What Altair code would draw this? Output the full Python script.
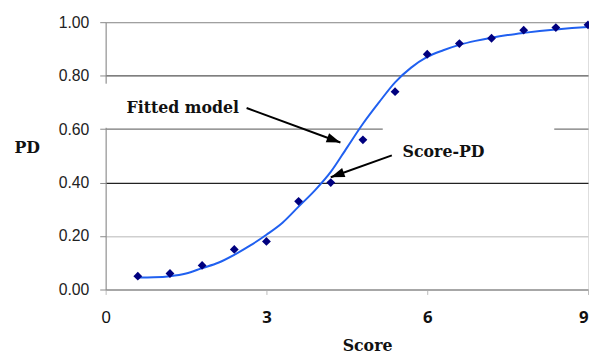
import math
import altair as alt
import pandas as pd

# Observed score-PD pairs (diamonds)
scores = [0.6, 1.2, 1.8, 2.4, 3.0, 3.6, 4.2, 4.8, 5.4, 6.0, 6.6, 7.2, 7.8, 8.4, 9.0]
pd_obs = [0.05, 0.06, 0.09, 0.15, 0.18, 0.33, 0.40, 0.56, 0.74, 0.88, 0.92, 0.94, 0.97, 0.98, 0.99]

# Fitted model curve
fit_x = [0.6, 0.9, 1.2, 1.5, 1.8, 2.1, 2.4, 2.7, 3.0, 3.3, 3.6, 3.9, 4.2, 4.5, 4.8,
         5.1, 5.4, 5.7, 6.0, 6.3, 6.6, 6.9, 7.2, 7.5, 7.8, 8.1, 8.4, 8.7, 9.0]
fit_y = [0.045, 0.046, 0.05, 0.06, 0.08, 0.10, 0.13, 0.165, 0.205, 0.25, 0.31, 0.37, 0.44, 0.53, 0.62,
         0.70, 0.775, 0.83, 0.87, 0.895, 0.915, 0.93, 0.942, 0.952, 0.96, 0.967, 0.973, 0.978, 0.982]

# Tick values
x_ticks = [0, 3, 6, 9]
y_ticks = [0.0, 0.2, 0.4, 0.6, 0.8, 1.0]

# Annotations
ann_text = ["Fitted model", "Score-PD"]
ann_x = [0.39, 5.54]
ann_y = [0.679, 0.513]
arrow_x0 = [2.63, 5.34]
arrow_y0 = [0.679, 0.502]
arrow_x1 = [4.38, 4.20]
arrow_y1 = [0.55, 0.42]

W, H = 489, 271
PX_X = W / 9.0
PX_Y = H / 1.0

angles = []
for x0, y0, x1, y1 in zip(arrow_x0, arrow_y0, arrow_x1, arrow_y1):
    dx = (x1 - x0) * PX_X
    dy = -(y1 - y0) * PX_Y
    angles.append((math.degrees(math.atan2(dy, dx)) + 90) % 360)

obs_df = pd.DataFrame({"score": scores, "pd": pd_obs})
fit_df = pd.DataFrame({"score": fit_x, "pd": fit_y})
ann_df = pd.DataFrame({"text": ann_text, "x": ann_x, "y": ann_y})
arr_df = pd.DataFrame({"x0": arrow_x0, "y0": arrow_y0, "x1": arrow_x1, "y1": arrow_y1, "angle": angles})
gap_df = pd.DataFrame({"x0": [5.17, 0.0], "x1": [8.37, 0.0], "y0": [0.6, 0.605], "y1": [0.6, 0.77]})

xscale = alt.Scale(domain=[0, 9], nice=False, zero=False)
yscale = alt.Scale(domain=[0, 1], nice=False)

SERIF = "DejaVu Serif"

x_axis = alt.Axis(
    values=x_ticks, format="d", title="Score", grid=False,
    labelFont={"condition": {"test": "datum.value == 0", "value": "Liberation Sans"}, "value": "Noto Sans"},
    labelFontWeight={"condition": {"test": "datum.value == 0", "value": "normal"}, "value": "bold"},
    labelAlign={"condition": {"test": "datum.value == 9", "value": "right"}, "value": "center"},
    labelFlush=False, labelFontSize=17, labelColor="#111", labelBaseline="top",
    tickSize=5, tickColor="#bbb", labelPadding=15, domainColor="#999",
    titleFont=SERIF, titleFontWeight="bold", titleFontSize=16, titleColor="#111",
    titleX=265, titleY=57, titleAlign="center", titleBaseline="middle",
)
y_axis = alt.Axis(
    values=y_ticks, format=".2f", title="PD", grid=True,
    gridColor={"condition": [
        {"test": "datum.value == 0.4", "value": "#222"},
        {"test": "datum.value == 0.8", "value": "#555"},
        {"test": "datum.value == 0.6", "value": "#777"},
        {"test": "datum.value == 0.2", "value": "#cfcfcf"}],
        "value": "#a0a0a0"},
    gridWidth=1.3,
    labelFont="Liberation Sans", labelFontSize=16, labelColor="#222",
    tickSize=6, tickColor="#888", labelPadding=11, domainColor="#888",
    titleFont=SERIF, titleFontWeight="bold", titleFontSize=16, titleColor="#111",
    titleAngle=0, titleX=-80, titleY=127, titleAlign="center", titleBaseline="middle",
)

points = alt.Chart(obs_df).mark_point(shape="diamond", filled=True, size=80, color="#00007f", opacity=1).encode(
    x=alt.X("score:Q", scale=xscale, axis=x_axis),
    y=alt.Y("pd:Q", scale=yscale, axis=y_axis),
)

gaps = alt.Chart(gap_df).mark_rule(color="white", strokeWidth=3).encode(
    x=alt.X("x0:Q", scale=xscale), x2="x1:Q",
    y=alt.Y("y0:Q", scale=yscale), y2="y1:Q",
)

curve = alt.Chart(fit_df).mark_line(color="#2060f0", strokeWidth=2, interpolate="monotone").encode(
    x=alt.X("score:Q", scale=xscale), y=alt.Y("pd:Q", scale=yscale),
)

arrow_lines = alt.Chart(arr_df).mark_rule(color="black", strokeWidth=2).encode(
    x=alt.X("x0:Q", scale=xscale), x2="x1:Q",
    y=alt.Y("y0:Q", scale=yscale), y2="y1:Q",
)

arrow_heads = alt.Chart(arr_df).mark_point(
    shape="M0,0L-0.7,2L0.7,2Z", filled=True, size=196, color="black", opacity=1
).encode(
    x=alt.X("x1:Q", scale=xscale), y=alt.Y("y1:Q", scale=yscale), angle=alt.Angle("angle:Q", scale=None),
)

labels = alt.Chart(ann_df).mark_text(
    font=SERIF, fontWeight="bold", fontSize=16, align="left", baseline="middle", color="#111"
).encode(
    x=alt.X("x:Q", scale=xscale), y=alt.Y("y:Q", scale=yscale), text="text:N",
)

chart = alt.layer(gaps, curve, points, arrow_lines, arrow_heads, labels).properties(
    width=W, height=H,
    autosize=alt.AutoSizeParams(type="none"),
    padding={"left": 99, "top": 12, "right": 1, "bottom": 64},
).configure_view(stroke="#999", strokeWidth=1.3).configure(background="white")

chart.save("out.html", embed_options={"renderer": "svg", "actions": False})
